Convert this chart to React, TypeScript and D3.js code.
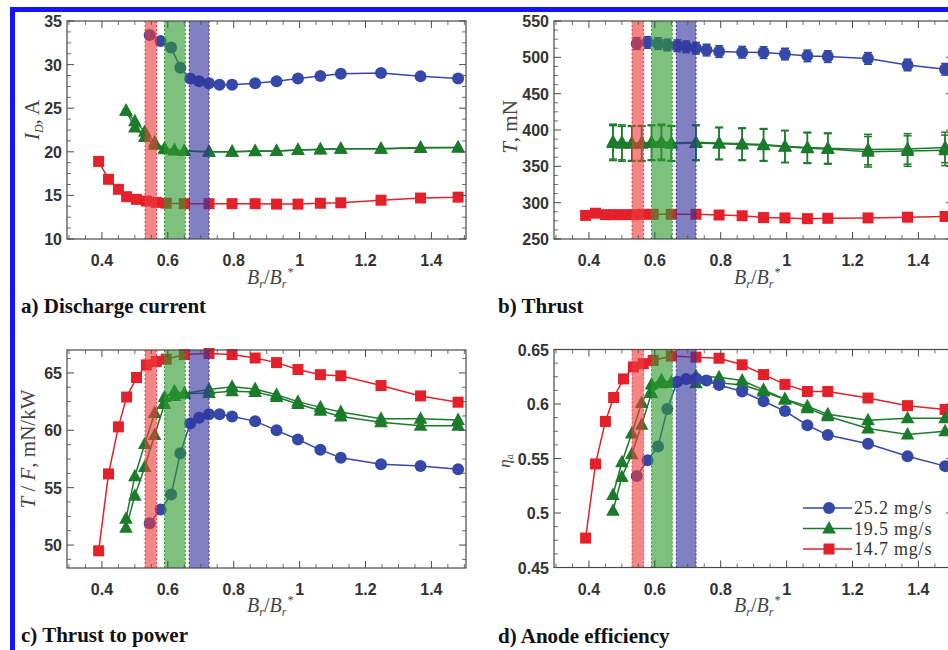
import React from "react";
import * as d3 from "d3";

// ---------- data ----------
const X_RED = [0.39, 0.42, 0.45, 0.475, 0.505, 0.535, 0.565, 0.595, 0.65, 0.725, 0.795, 0.865, 0.93, 0.995, 1.063, 1.125, 1.247, 1.367, 1.481];
const X_BLUE = [0.545, 0.578, 0.61, 0.638, 0.668, 0.695, 0.725, 0.757, 0.795, 0.865, 0.93, 0.995, 1.063, 1.125, 1.247, 1.367, 1.481];
const X_GREEN = [0.473, 0.5, 0.53, 0.56, 0.59, 0.62, 0.65, 0.725, 0.795, 0.865, 0.93, 0.995, 1.063, 1.125, 1.247, 1.367, 1.481];

// a) discharge current
const ID_BLUE = [33.4, 32.7, 31.95, 29.65, 28.4, 28.1, 27.85, 27.7, 27.7, 27.85, 28.1, 28.4, 28.7, 28.95, 29.05, 28.65, 28.4];
const ID_GREEN_1 = [24.7, 23.5, 22.3, 21.1, 20.4, 20.2, 20.1, 20.0, 20.0, 20.1, 20.1, 20.2, 20.3, 20.35, 20.35, 20.5, 20.5];
const ID_GREEN_2 = [24.7, 22.8, 21.7, 20.8, 20.3, 20.15, 20.1, 20.0, 20.0, 20.05, 20.1, 20.2, 20.25, 20.35, 20.35, 20.45, 20.5];
const ID_RED = [18.9, 16.85, 15.7, 14.85, 14.55, 14.35, 14.2, 14.1, 14.05, 14.05, 14.05, 14.05, 14.0, 14.0, 14.1, 14.15, 14.45, 14.7, 14.8];

// b) thrust
const T_BLUE = [519, 520.5, 519, 517, 516, 514.5, 512.5, 510, 508, 507, 506.5, 504.5, 502, 501, 498.5, 489.5, 483.5];
const T_BLUE_ERR = [8, 8, 8, 8, 8, 8, 8, 8, 8, 8, 8, 8, 8, 8, 8, 8, 8];
const T_GREEN_1 = [384, 383, 382, 382, 383, 384, 382, 383, 382, 381, 380, 377.5, 376, 375, 373, 374, 376];
const T_GREEN_2 = [382, 381, 381, 381, 382, 382, 381, 382, 381, 380, 379, 377, 375, 374, 370, 371, 372];
const T_GREEN_ERR = [24, 24, 24, 24, 24, 24, 24, 24, 22, 22, 22, 22, 21, 21, 21, 21, 21];
const T_RED = [282.5, 285.5, 283.5, 283.5, 283.5, 283.5, 284, 284, 284, 284, 283, 282, 279.5, 279, 278, 278.5, 279, 280, 281];
const T_RED_ERR = [3, 3, 3, 3, 3, 3, 3, 3, 3, 3, 3, 3, 3, 3, 3, 3, 3, 3, 3];

// c) thrust to power
const TP_BLUE = [51.9, 53.1, 54.4, 58.0, 60.6, 61.1, 61.4, 61.4, 61.2, 60.8, 60.0, 59.2, 58.3, 57.6, 57.05, 56.9, 56.6];
const TP_GREEN_1 = [52.3, 56.0, 58.8, 61.5, 62.9, 63.4, 63.2, 63.55, 63.8, 63.6, 63.1, 62.5, 62.0, 61.6, 61.0, 61.0, 60.9];
const TP_GREEN_2 = [51.5, 54.3, 56.8, 59.6, 62.3, 63.0, 63.2, 63.25, 63.4, 63.35, 62.9, 62.3, 61.7, 61.2, 60.7, 60.4, 60.4];
const TP_RED = [49.5, 56.2, 60.3, 62.9, 64.6, 65.7, 66.0, 66.2, 66.6, 66.7, 66.6, 66.3, 65.9, 65.3, 64.85, 64.75, 63.9, 63.0, 62.45];

// d) anode efficiency
const ETA_BLUE = [0.534, 0.5485, 0.561, 0.5955, 0.6205, 0.623, 0.6235, 0.6215, 0.6175, 0.6115, 0.6025, 0.5935, 0.5805, 0.5715, 0.5635, 0.552, 0.543];
const ETA_GREEN_1 = [0.5165, 0.5465, 0.573, 0.601, 0.618, 0.622, 0.6195, 0.6255, 0.6245, 0.6215, 0.613, 0.6045, 0.598, 0.5905, 0.585, 0.587, 0.587];
const ETA_GREEN_2 = [0.502, 0.533, 0.554, 0.581, 0.61, 0.619, 0.6195, 0.619, 0.6195, 0.6175, 0.6115, 0.604, 0.596, 0.5888, 0.5775, 0.572, 0.575];
const ETA_RED = [0.477, 0.545, 0.584, 0.606, 0.623, 0.634, 0.637, 0.64, 0.644, 0.643, 0.642, 0.636, 0.627, 0.618, 0.6115, 0.6115, 0.6055, 0.5985, 0.595];

// shaded optimum bands (x ranges)
const BAND_RED = [0.531, 0.566];
const BAND_GREEN = [0.59, 0.653];
const BAND_BLUE = [0.665, 0.725];

const X_TICKS = [0.4, 0.6, 0.8, 1, 1.2, 1.4];
const LEGEND_LABELS = ["25.2 mg/s", "19.5 mg/s", "14.7 mg/s"];

// ---------- styles ----------
const BLUE = "#3548a8";
const GREEN = "#1b7b2b";
const RED = "#e4202a";
const FRAME = "#4a4a4a";
const TICK_FONT = "'Liberation Sans', Arial, sans-serif";
const SERIF = "'Liberation Serif', 'Times New Roman', serif";

type Marker = "circle" | "square" | "triangle";
type Series = { x: number[]; y: number[]; color: string; marker: Marker; err?: number[] };

const PW = 399;
const PH = 218;
const X_DOMAIN: [number, number] = [0.294, 1.505];

function MarkerShape({ m, cx, cy, color }: { m: Marker; cx: number; cy: number; color: string }) {
  if (m === "circle") return <circle cx={cx} cy={cy} r={6} fill={color} />;
  if (m === "square") return <rect x={cx - 5.5} y={cy - 5.5} width={11} height={11} fill={color} />;
  return <polygon points={`${cx},${cy - 7.5} ${cx + 6.8},${cy + 5} ${cx - 6.8},${cy + 5}`} fill={color} />;
}

function Panel(props: {
  left: number;
  top: number;
  yDomain: [number, number];
  yTicks: number[];
  yMinorStep: number;
  yFmt: (v: number) => string;
  series: Series[];
}) {
  const { left, top, yDomain, yTicks, yMinorStep, yFmt, series } = props;
  const x = d3.scaleLinear().domain(X_DOMAIN).range([left, left + PW]);
  const y = d3.scaleLinear().domain(yDomain).range([top + PH, top]);
  const line = d3
    .line<[number, number]>()
    .x((d) => x(d[0]))
    .y((d) => y(d[1]));
  const xMinor = d3.range(0.3, 1.501, 0.05).filter((v) => !X_TICKS.some((t) => Math.abs(t - v) < 1e-6));
  const yMinor = d3
    .range(Math.ceil(yDomain[0] / yMinorStep) * yMinorStep, yDomain[1] + 1e-9, yMinorStep)
    .filter((v) => !yTicks.some((t) => Math.abs(t - v) < 1e-9));
  const bands: [number[], string][] = [
    [BAND_RED, "#ee3b3b"],
    [BAND_GREEN, "#2f9a2f"],
    [BAND_BLUE, "#32329e"],
  ];
  const bottom = top + PH;
  const right = left + PW;
  return (
    <g>
      {series.map((s, i) => {
        const pts: [number, number][] = s.x.map((xv, j) => [xv, s.y[j]]);
        return (
          <g key={i}>
            <path d={line(pts) || ""} fill="none" stroke={s.color} strokeWidth={1.5} />
            {s.err &&
              pts.map((p, j) => (
                <g key={"e" + j} stroke={s.color} strokeWidth={1.5}>
                  <line x1={x(p[0])} x2={x(p[0])} y1={y(p[1] - s.err![j])} y2={y(p[1] + s.err![j])} />
                  <line x1={x(p[0]) - 4} x2={x(p[0]) + 4} y1={y(p[1] - s.err![j])} y2={y(p[1] - s.err![j])} />
                  <line x1={x(p[0]) - 4} x2={x(p[0]) + 4} y1={y(p[1] + s.err![j])} y2={y(p[1] + s.err![j])} />
                </g>
              ))}
            {pts.map((p, j) => (
              <MarkerShape key={j} m={s.marker} cx={x(p[0])} cy={y(p[1])} color={s.color} />
            ))}
          </g>
        );
      })}
      {bands.map(([b, c], i) => (
        <g key={"b" + i}>
          <rect x={x(b[0])} y={top} width={x(b[1]) - x(b[0])} height={PH} fill={c} fillOpacity={0.62} />
          <line x1={x(b[0])} x2={x(b[0])} y1={top} y2={bottom} stroke={c} strokeDasharray="2,2" strokeWidth={1} />
          <line x1={x(b[1])} x2={x(b[1])} y1={top} y2={bottom} stroke={c} strokeDasharray="2,2" strokeWidth={1} />
        </g>
      ))}
      <rect x={left} y={top} width={PW} height={PH} fill="none" stroke={FRAME} strokeWidth={1.2} />
      {X_TICKS.map((t) => (
        <g key={"xt" + t} stroke={FRAME} strokeWidth={1}>
          <line x1={x(t)} x2={x(t)} y1={bottom} y2={bottom - 7} />
          <line x1={x(t)} x2={x(t)} y1={top} y2={top + 7} />
        </g>
      ))}
      {xMinor.map((t) => (
        <g key={"xm" + t} stroke={FRAME} strokeWidth={0.8}>
          <line x1={x(t)} x2={x(t)} y1={bottom} y2={bottom - 4} />
          <line x1={x(t)} x2={x(t)} y1={top} y2={top + 4} />
        </g>
      ))}
      {X_TICKS.map((t) => (
        <text
          key={"xl" + t}
          x={x(t)}
          y={bottom + 27}
          textAnchor="middle"
          fontFamily={TICK_FONT}
          fontWeight="bold"
          fontSize={16}
          fill="#333"
        >
          {t}
        </text>
      ))}
      {yTicks.map((t) => (
        <g key={"yt" + t} stroke={FRAME} strokeWidth={1}>
          <line x1={left} x2={left + 7} y1={y(t)} y2={y(t)} />
          <line x1={right} x2={right - 7} y1={y(t)} y2={y(t)} />
        </g>
      ))}
      {yMinor.map((t) => (
        <g key={"ym" + t} stroke={FRAME} strokeWidth={0.8}>
          <line x1={left} x2={left + 4} y1={y(t)} y2={y(t)} />
          <line x1={right} x2={right - 4} y1={y(t)} y2={y(t)} />
        </g>
      ))}
      {yTicks.map((t) => (
        <text
          key={"yl" + t}
          x={left - 5}
          y={y(t) + 6}
          textAnchor="end"
          fontFamily={TICK_FONT}
          fontWeight="bold"
          fontSize={16}
          fill="#333"
        >
          {yFmt(t)}
        </text>
      ))}
    </g>
  );
}

function XLabel({ cx, y }: { cx: number; y: number }) {
  return (
    <text x={cx} y={y} textAnchor="middle" fontFamily={SERIF} fontStyle="italic" fontSize={20} fill="#444">
      B
      <tspan fontSize={12} dy={4}>r</tspan>
      <tspan dy={-4} fontStyle="normal">/</tspan>
      B
      <tspan fontSize={12} dy={4}>r</tspan>
      <tspan fontSize={12} dx={0.5} dy={-12}>*</tspan>
    </text>
  );
}

function Title({ x, y, text }: { x: number; y: number; text: string }) {
  return (
    <text x={x} y={y} fontFamily={SERIF} fontWeight="bold" fontSize={21} fill="#111">
      {text}
    </text>
  );
}

export default function App() {
  const fmtInt = (v: number) => String(v);
  const fmtEta = (v: number) => String(+v.toFixed(2));

  const seriesA: Series[] = [
    { x: X_RED, y: ID_RED, color: RED, marker: "square" },
    { x: X_GREEN, y: ID_GREEN_2, color: GREEN, marker: "triangle" },
    { x: X_GREEN, y: ID_GREEN_1, color: GREEN, marker: "triangle" },
    { x: X_BLUE, y: ID_BLUE, color: BLUE, marker: "circle" },
  ];
  const seriesB: Series[] = [
    { x: X_RED, y: T_RED, color: RED, marker: "square", err: T_RED_ERR },
    { x: X_GREEN, y: T_GREEN_2, color: GREEN, marker: "triangle", err: T_GREEN_ERR },
    { x: X_GREEN, y: T_GREEN_1, color: GREEN, marker: "triangle", err: T_GREEN_ERR },
    { x: X_BLUE, y: T_BLUE, color: BLUE, marker: "circle", err: T_BLUE_ERR },
  ];
  const seriesC: Series[] = [
    { x: X_RED, y: TP_RED, color: RED, marker: "square" },
    { x: X_GREEN, y: TP_GREEN_2, color: GREEN, marker: "triangle" },
    { x: X_GREEN, y: TP_GREEN_1, color: GREEN, marker: "triangle" },
    { x: X_BLUE, y: TP_BLUE, color: BLUE, marker: "circle" },
  ];
  const seriesD: Series[] = [
    { x: X_RED, y: ETA_RED, color: RED, marker: "square" },
    { x: X_GREEN, y: ETA_GREEN_2, color: GREEN, marker: "triangle" },
    { x: X_GREEN, y: ETA_GREEN_1, color: GREEN, marker: "triangle" },
    { x: X_BLUE, y: ETA_BLUE, color: BLUE, marker: "circle" },
  ];

  const legendColors = [BLUE, GREEN, RED];
  const legendMarkers: Marker[] = ["circle", "triangle", "square"];

  return (
    <svg
      width={948}
      height={650}
      style={{ position: "absolute", left: 0, top: 0, background: "#fff" }}
      xmlns="http://www.w3.org/2000/svg"
    >
      <rect x={0} y={0} width={948} height={650} fill="#fff" />
      <rect x={12.5} y={9.5} width={1000} height={700} fill="none" stroke="#1414ff" strokeWidth={5} />

      {/* a */}
      <Panel left={67} top={21} yDomain={[10, 35]} yTicks={[10, 15, 20, 25, 30, 35]} yMinorStep={1.25} yFmt={fmtInt} series={seriesA} />
      <text transform="translate(39,120) rotate(-90)" textAnchor="middle" fontFamily={SERIF} fontSize={21} fill="#444">
        <tspan fontStyle="italic">I</tspan>
        <tspan fontStyle="italic" fontSize={12} dy={4}>D</tspan>
        <tspan dy={-4}>, A</tspan>
      </text>
      <XLabel cx={270} y={284} />
      <Title x={21} y={313} text="a) Discharge current" />

      {/* b */}
      <Panel left={554} top={21} yDomain={[250, 550]} yTicks={[250, 300, 350, 400, 450, 500, 550]} yMinorStep={12.5} yFmt={fmtInt} series={seriesB} />
      <text transform="translate(517,127) rotate(-90)" textAnchor="middle" fontFamily={SERIF} fontSize={21} fill="#444">
        <tspan fontStyle="italic">T</tspan>
        <tspan>, mN</tspan>
      </text>
      <XLabel cx={757} y={284} />
      <Title x={498} y={313} text="b) Thrust" />

      {/* c */}
      <Panel left={67} top={350} yDomain={[48, 67]} yTicks={[50, 55, 60, 65]} yMinorStep={1.25} yFmt={fmtInt} series={seriesC} />
      <text transform="translate(35,449) rotate(-90)" textAnchor="middle" fontFamily={SERIF} fontSize={21} fill="#444">
        <tspan fontStyle="italic">T</tspan>
        <tspan> / </tspan>
        <tspan fontStyle="italic">F</tspan>
        <tspan>, mN/kW</tspan>
      </text>
      <XLabel cx={270} y={612} />
      <Title x={21} y={642} text="c) Thrust to power" />

      {/* d */}
      <Panel left={554} top={349.5} yDomain={[0.45, 0.65]} yTicks={[0.45, 0.5, 0.55, 0.6, 0.65]} yMinorStep={0.0125} yFmt={fmtEta} series={seriesD} />
      <text transform="translate(510,461) rotate(-90)" textAnchor="middle" fontFamily={SERIF} fontSize={17} fill="#444">
        <tspan fontStyle="italic">η</tspan>
        <tspan fontStyle="italic" fontSize={10} dy={3}>a</tspan>
      </text>
      <XLabel cx={757} y={612} />
      <Title x={498} y={643} text="d) Anode efficiency" />

      {/* legend */}
      {LEGEND_LABELS.map((lab, i) => {
        const ly = 508 + i * 20.5;
        return (
          <g key={lab}>
            <line x1={803} x2={852} y1={ly} y2={ly} stroke={legendColors[i]} strokeWidth={1.5} />
            <MarkerShape m={legendMarkers[i]} cx={829} cy={ly} color={legendColors[i]} />
            <text x={854} y={ly + 6} fontFamily={SERIF} fontSize={18} letterSpacing={0.8} fill="#333">
              {lab}
            </text>
          </g>
        );
      })}
    </svg>
  );
}
